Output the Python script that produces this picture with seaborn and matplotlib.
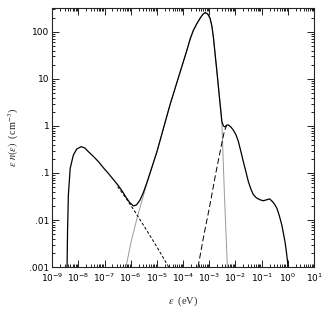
import numpy as np
import pandas as pd
import matplotlib
matplotlib.use("Agg")
import matplotlib.pyplot as plt
import matplotlib.ticker as mticker
import seaborn as sns

# ── data (log10 eV, log10 cm^-3) ───────────────────────────────
tot_logx = [-8.43, -8.41, -8.38, -8.31, -8.19, -8.06, -7.89, -7.75, -7.61, -7.42,
            -7.23, -7.04, -6.85, -6.66, -6.47, -6.33, -6.20, -6.05, -5.90, -5.78,
            -5.65, -5.52, -5.38, -5.25, -5.00, -4.75, -4.50, -4.25, -4.00, -3.86,
            -3.73, -3.61, -3.48, -3.35, -3.25, -3.16, -3.06, -2.97, -2.90, -2.84,
            -2.78, -2.71, -2.66, -2.61, -2.56, -2.52, -2.46, -2.40, -2.33, -2.27,
            -2.18, -2.08, -1.98, -1.89, -1.80, -1.70, -1.60, -1.51, -1.42, -1.32,
            -1.20, -1.06, -0.94, -0.81, -0.70, -0.60, -0.50, -0.42, -0.33, -0.23,
            -0.11, -0.04, 0.01]
tot_logy = [-3.00, -2.20, -1.47, -0.90, -0.62, -0.49, -0.44, -0.47, -0.55, -0.65,
            -0.76, -0.89, -1.01, -1.14, -1.27, -1.38, -1.50, -1.62, -1.70, -1.68,
            -1.58, -1.42, -1.20, -0.98, -0.55, -0.05, 0.45, 0.90, 1.35, 1.60,
            1.85, 2.03, 2.17, 2.29, 2.37, 2.41, 2.38, 2.29, 2.12, 1.87,
            1.54, 1.16, 0.88, 0.59, 0.32, 0.09, 0.00, -0.02, 0.02, 0.02,
            -0.02, -0.09, -0.19, -0.33, -0.53, -0.76, -0.98, -1.18, -1.33, -1.46,
            -1.53, -1.57, -1.59, -1.57, -1.55, -1.60, -1.67, -1.75, -1.90, -2.11,
            -2.46, -2.75, -3.00]

low_logx = [-6.50, -6.20, -5.90, -5.50, -5.00, -4.55]
low_logy = [-1.29, -1.52, -1.77, -2.12, -2.57, -3.00]

mid_logx = [-6.18, -6.00, -5.76, -5.50, -5.25, -5.00, -4.75, -4.50, -4.25, -4.00,
            -3.86, -3.73, -3.61, -3.48, -3.35, -3.25, -3.16, -3.06, -2.97, -2.90,
            -2.84, -2.78, -2.71, -2.66, -2.61, -2.56, -2.52, -2.42, -2.31]
mid_logy = [-3.00, -2.50, -1.96, -1.45, -0.98, -0.55, -0.05, 0.45, 0.90, 1.35,
            1.60, 1.85, 2.03, 2.17, 2.29, 2.37, 2.41, 2.38, 2.29, 2.12,
            1.87, 1.54, 1.16, 0.88, 0.59, 0.32, 0.09, -1.50, -3.00]

hi_logx = [-3.43, -3.20, -3.00, -2.75, -2.52, -2.42, -2.33]
hi_logy = [-3.00, -2.30, -1.75, -1.00, -0.36, -0.10, 0.02]

xtick_vals = [1e-9, 1e-8, 1e-7, 1e-6, 1e-5, 1e-4, 1e-3, 1e-2, 1e-1, 1e0, 1e1]
xtick_labels = [r"$10^{-9}$", r"$10^{-8}$", r"$10^{-7}$", r"$10^{-6}$", r"$10^{-5}$",
                r"$10^{-4}$", r"$10^{-3}$", r"$10^{-2}$", r"$10^{-1}$", r"$10^{0}$",
                r"$10^{1}$"]
ytick_vals = [1e-3, 1e-2, 1e-1, 1, 10, 100]
ytick_labels = [".001", ".01", ".1", "1", "10", "100"]


def frame(lx, ly):
    return pd.DataFrame({"e": 10 ** np.array(lx), "n": 10 ** np.array(ly)})


sns.set_style("ticks")
plt.rcParams["font.family"] = ["DejaVu Sans"]
plt.rcParams["mathtext.fontset"] = "dejavusans"

fig = plt.figure(figsize=(3.32, 3.12), dpi=100)
ax = fig.add_axes([0.157, 0.144, 0.789, 0.830])

sns.lineplot(data=frame(mid_logx, mid_logy), x="e", y="n", ax=ax,
             color="#9a9a9a", lw=0.7, sort=False)
sns.lineplot(data=frame(low_logx, low_logy), x="e", y="n", ax=ax,
             color="black", lw=0.7, sort=False, linestyle=(0, (3, 2)))
sns.lineplot(data=frame(hi_logx, hi_logy), x="e", y="n", ax=ax,
             color="black", lw=0.7, sort=False, linestyle=(0, (6, 3)))
sns.lineplot(data=frame(tot_logx, tot_logy), x="e", y="n", ax=ax,
             color="black", lw=0.9, sort=False)

ax.set_xscale("log")
ax.set_yscale("log")
ax.set_xlim(1e-9, 1e1)
ax.set_ylim(1e-3, 320)

ax.xaxis.set_major_locator(mticker.FixedLocator(xtick_vals))
ax.xaxis.set_major_formatter(mticker.FixedFormatter(xtick_labels))
ax.xaxis.set_minor_locator(mticker.LogLocator(base=10, subs=np.arange(2, 10), numticks=200))
ax.xaxis.set_minor_formatter(mticker.NullFormatter())
ax.yaxis.set_major_locator(mticker.FixedLocator(ytick_vals))
ax.yaxis.set_major_formatter(mticker.FixedFormatter(ytick_labels))
ax.yaxis.set_minor_locator(mticker.LogLocator(base=10, subs=np.arange(2, 10), numticks=200))
ax.yaxis.set_minor_formatter(mticker.NullFormatter())

ax.tick_params(which="both", direction="in", top=True, right=True, width=0.6,
               labelsize=6.5, colors="black")
ax.tick_params(axis="y", pad=2)
ax.tick_params(axis="x", pad=3)
ax.tick_params(which="major", length=5)
ax.tick_params(which="minor", length=2.5)
for s in ax.spines.values():
    s.set_linewidth(0.8)

ax.set_xlabel(r"$\epsilon$  (eV)", fontsize=7.5, labelpad=8,
              math_fontfamily="stix", family="Liberation Serif")
ax.set_ylabel(r"$\epsilon\ n(\epsilon)$  (cm$^{-3}$)", fontsize=7.5, labelpad=6,
              math_fontfamily="stix", family="Liberation Serif")

fig.savefig("out.png", dpi=100)
